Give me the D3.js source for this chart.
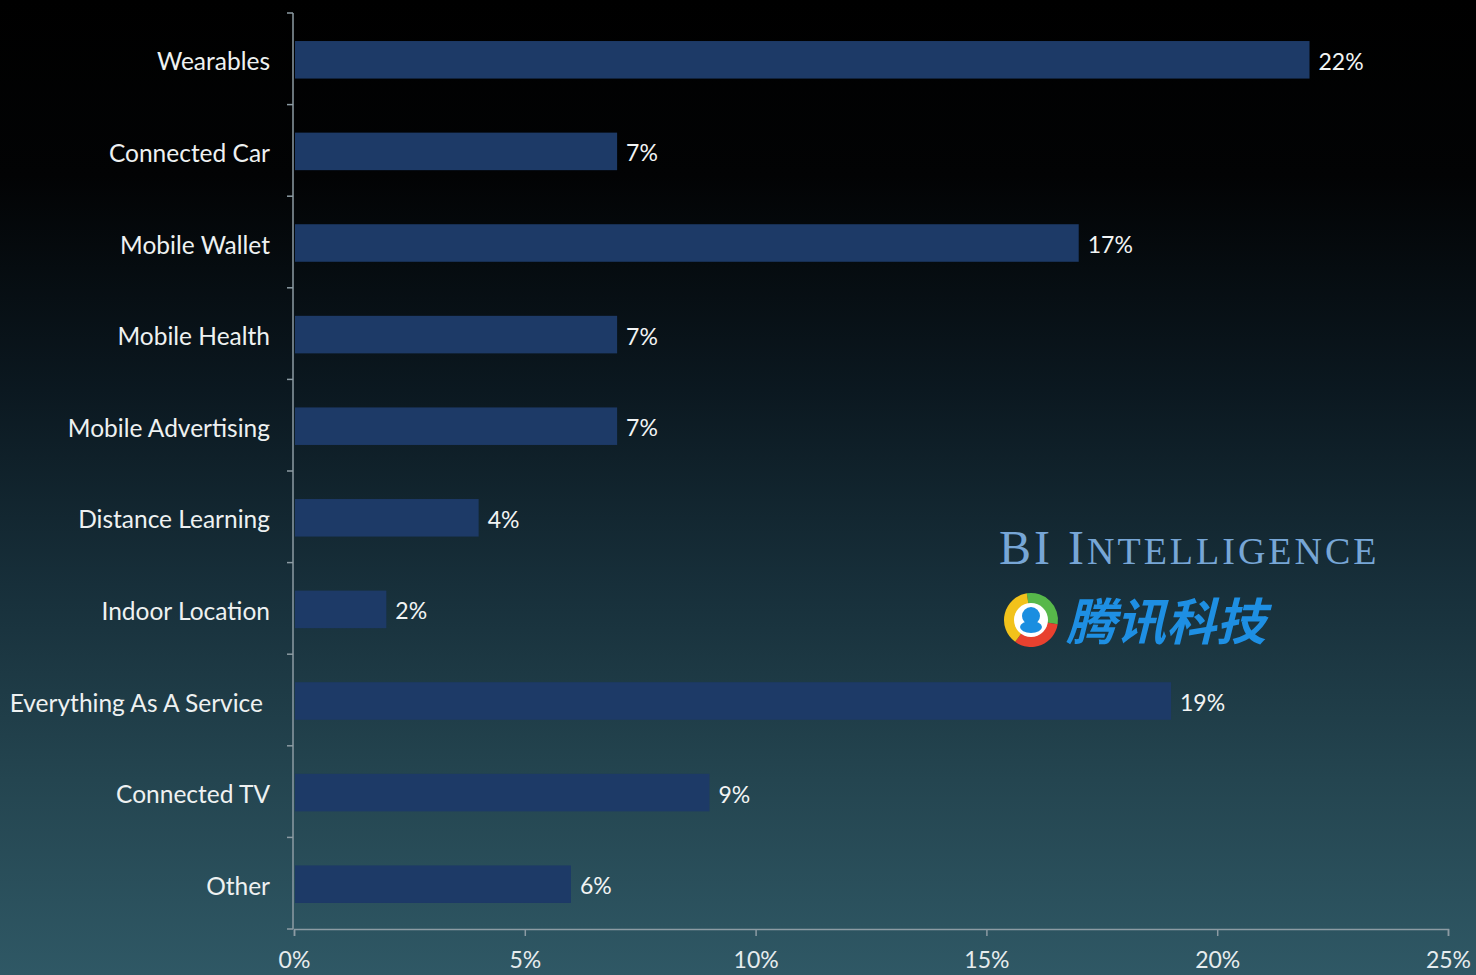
<!DOCTYPE html>
<html><head><meta charset="utf-8">
<script src="https://cdn.jsdelivr.net/npm/d3@7"></script>
<style>html,body{margin:0;padding:0;background:#000;overflow:hidden}</style>
</head><body>
<svg id="c" width="1476" height="975"></svg>
<script>
const categories = ["Wearables","Connected Car","Mobile Wallet","Mobile Health","Mobile Advertising","Distance Learning","Indoor Location","Everything As A Service","Connected TV","Other"];
const values = [22,7,17,7,7,4,2,19,9,6];
const xTicks = [0,5,10,15,20,25];

const svg = d3.select("#c");
const W = 1476, H = 975;
const defs = svg.append("defs");
const g = defs.append("linearGradient").attr("id","bg").attr("x1",0).attr("y1",0).attr("x2",0).attr("y2",1);
[[0,"#000000"],[0.18,"#020304"],[0.4,"#0b1820"],[0.6,"#172f3a"],[0.8,"#244550"],[1,"#2f5865"]].forEach(s=>g.append("stop").attr("offset",s[0]).attr("stop-color",s[1]));
svg.append("rect").attr("width",W).attr("height",H).attr("fill","url(#bg)");

const x = d3.scaleLinear().domain([0,25]).range([294,1448]);
const y = d3.scaleBand().domain(categories).range([13,929]).padding(0);
const barH = y.bandwidth()*0.41;
const axisCol = "#8c9ba3";
const font = "Lato, 'Open Sans', sans-serif";

// bars
svg.selectAll("rect.bar").data(categories).enter().append("rect")
  .attr("x", x(0)+1).attr("y", d=>y(d)+y.bandwidth()/2-barH/2+1)
  .attr("width", (d,i)=>x(values[i])-x(0)-1).attr("height", barH)
  .attr("fill","#1d3a67");

// value labels
svg.selectAll("text.val").data(categories).enter().append("text")
  .attr("x",(d,i)=>x(values[i])+9).attr("y",d=>y(d)+y.bandwidth()/2+3)
  .attr("dy","0.35em").attr("fill","#f2f4f4").attr("font-family",font).attr("font-size",23)
  .text((d,i)=>values[i]+"%");

// y axis
const ya = svg.append("g");
ya.append("line").attr("x1",293).attr("x2",293).attr("y1",13).attr("y2",929).attr("stroke",axisCol).attr("stroke-width",1.5);
const bounds = d3.range(categories.length+1).map(i=>13+i*y.step());
ya.selectAll("line.t").data(bounds).enter().append("line")
  .attr("x1",287).attr("x2",293).attr("y1",d=>d).attr("y2",d=>d).attr("stroke",axisCol).attr("stroke-width",1.5);
ya.selectAll("text").data(categories).enter().append("text")
  .attr("x",d=>d==="Everything As A Service"?263:270).attr("y",d=>y(d)+y.bandwidth()/2+3).attr("dy","0.35em")
  .attr("text-anchor","end").attr("fill","#eef1f1").attr("font-family",font).attr("font-size",24.5)
  .text(d=>d);

// x axis
const xa = svg.append("g").attr("transform","translate(0,929)")
  .call(d3.axisBottom(x).tickValues(xTicks).tickSize(7).tickPadding(16).tickFormat(d=>d+"%"));
xa.select(".domain").attr("stroke",axisCol).attr("stroke-width",1.5);
xa.selectAll(".tick line").attr("stroke",axisCol).attr("stroke-width",1.5);
xa.selectAll(".tick text").attr("fill","#e6ecee").attr("font-family",font).attr("font-size",23);

// watermark: BI Intelligence
const bi = svg.append("text").attr("x",999).attr("y",564).attr("fill","#77a6d6")
  .attr("font-family","'Liberation Serif', 'DejaVu Serif', serif").attr("letter-spacing",3);
bi.append("tspan").attr("font-size",48).text("BI I");
bi.append("tspan").attr("font-size",38).text("NTELLIGENCE");

// Tencent logo
const lg = svg.append("g").attr("transform","translate(1031,620)");
const arc = d3.arc().innerRadius(16).outerRadius(27);
[[-Math.PI*0.05, Math.PI*0.55, "#57b84a"],[Math.PI*0.55, Math.PI*1.2, "#e8412f"],[Math.PI*1.2, Math.PI*1.95, "#f2c21b"]].forEach(a=>
  lg.append("path").attr("d",arc({startAngle:a[0],endAngle:a[1]})).attr("fill",a[2]));
lg.append("circle").attr("r",17).attr("fill","#ffffff");
lg.append("circle").attr("cx",0).attr("cy",-4).attr("r",9).attr("fill","#1a8ee0");
lg.append("ellipse").attr("cx",0).attr("cy",7).attr("rx",11).attr("ry",6).attr("fill","#1a8ee0");
svg.append("text").attr("x",1066).attr("y",640).attr("fill","#1e8fe3")
  .attr("font-family","'Noto Sans CJK SC', sans-serif").attr("font-weight",700).attr("font-style","italic")
  .attr("font-size",50)
  .text("腾讯科技");
</script>
</body></html>
